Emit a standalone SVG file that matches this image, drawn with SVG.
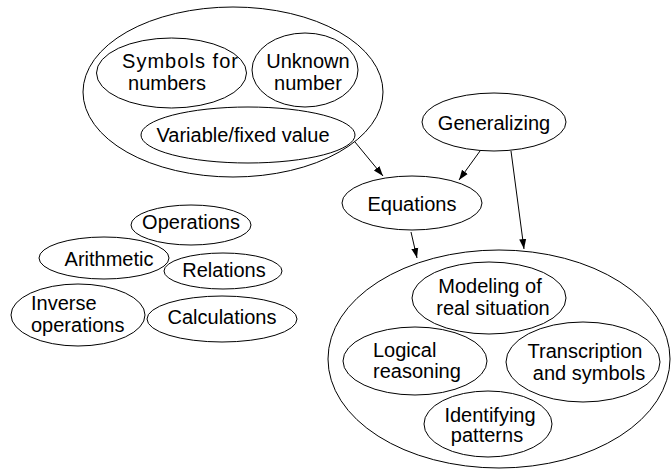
<svg xmlns="http://www.w3.org/2000/svg" width="671" height="469" viewBox="0 0 671 469">
<style>
ellipse{fill:none;stroke:#000;stroke-width:1}
text{font-family:"Liberation Sans",Arial,sans-serif;font-size:20px;fill:#000}
.c{text-anchor:middle}
.conn line{stroke:#000;stroke-width:1}
</style>
<defs>
<marker id="ah" viewBox="0 0 10 10" refX="10" refY="5" markerWidth="10" markerHeight="10" markerUnits="userSpaceOnUse" orient="auto">
<path d="M0,1.5 L10,5 L0,8.5 Z" fill="#000"/>
</marker>
</defs>
<rect width="671" height="469" fill="#fff"/>
<g id="group-top">
<ellipse cx="233" cy="92" rx="150" ry="85"/>
</g>
<g id="symbols">
<ellipse cx="171.5" cy="73" rx="75" ry="35"/>
<text class="c" x="180" y="68" textLength="116" lengthAdjust="spacing">Symbols for</text>
<text class="c" x="167" y="90">numbers</text>
</g>
<g id="unknown">
<ellipse cx="305" cy="70" rx="53" ry="37"/>
<text class="c" x="308" y="68">Unknown</text>
<text class="c" x="308" y="90">number</text>
</g>
<g id="variable">
<ellipse cx="248" cy="135" rx="107" ry="28"/>
<text class="c" x="243" y="142">Variable/fixed value</text>
</g>
<g id="generalizing">
<ellipse cx="494" cy="122" rx="72" ry="29"/>
<text class="c" x="494" y="130">Generalizing</text>
</g>
<g id="equations">
<ellipse cx="412" cy="203" rx="70" ry="27"/>
<text class="c" x="412" y="211">Equations</text>
</g>
<g id="operations">
<ellipse cx="191" cy="225" rx="60" ry="20"/>
<text class="c" x="191" y="229">Operations</text>
</g>
<g id="arithmetic">
<ellipse cx="104" cy="258" rx="65" ry="21"/>
<text class="c" x="109" y="266">Arithmetic</text>
</g>
<g id="relations">
<ellipse cx="223" cy="271" rx="59" ry="18"/>
<text class="c" x="224" y="277">Relations</text>
</g>
<g id="inverse">
<ellipse cx="78" cy="315" rx="67" ry="31"/>
<text x="31" y="310">Inverse</text>
<text x="31" y="332">operations</text>
</g>
<g id="calculations">
<ellipse cx="222" cy="319" rx="75" ry="23"/>
<text class="c" x="222" y="324">Calculations</text>
</g>
<g id="group-bottom">
<ellipse cx="499" cy="359" rx="171" ry="109"/>
</g>
<g id="modeling">
<ellipse cx="489" cy="298" rx="77" ry="36"/>
<text class="c" x="490" y="293">Modeling of</text>
<text class="c" x="493" y="315">real situation</text>
</g>
<g id="logical">
<ellipse cx="415" cy="361" rx="72" ry="34"/>
<text x="373" y="357">Logical</text>
<text x="373" y="378">reasoning</text>
</g>
<g id="transcription">
<ellipse cx="583" cy="362" rx="77" ry="40"/>
<text class="c" x="585" y="358">Transcription</text>
<text class="c" x="589" y="380">and symbols</text>
</g>
<g id="identifying">
<ellipse cx="488" cy="424" rx="64" ry="33"/>
<text class="c" x="490" y="422">Identifying</text>
<text class="c" x="487" y="442">patterns</text>
</g>
<g class="conn" id="connectors">
<line x1="355" y1="142" x2="383" y2="176" marker-end="url(#ah)"/>
<line x1="480" y1="151" x2="459" y2="180" marker-end="url(#ah)"/>
<line x1="511" y1="151" x2="524" y2="249" marker-end="url(#ah)"/>
<line x1="411" y1="232" x2="417" y2="258" marker-end="url(#ah)"/>
</g>
</svg>
